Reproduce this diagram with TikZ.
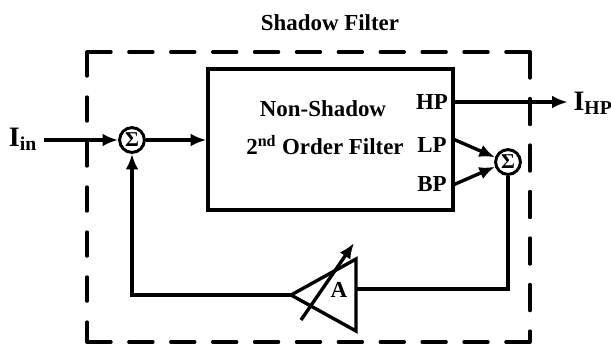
\documentclass[tikz,border=0pt]{standalone}
\usepackage{fontspec}
\setmainfont{Liberation Serif}
\usepackage{tikz}
\usetikzlibrary{arrows.meta}
\usetikzlibrary{calc}
\begin{document}
\begin{tikzpicture}[x=0.025cm, y=-0.025cm, >={Latex[length=3.9mm,width=3.2mm]}, line join=miter]
	
	\tikzset{
		wire/.style={black, line width=2.4pt},
		arrowW/.style={->, black, line width=2.4pt},
		frameH/.style={black, line width=2.4pt, line cap=round, dash pattern=on 0.6cm off 0.447cm},
		frameL/.style={black, line width=2.4pt, line cap=round, dash pattern=on 0.6cm off 0.525cm},
		frameR/.style={black, line width=2.4pt, line cap=round, dash pattern=on 0.65cm off 0.5125cm},
		blockbox/.style={draw=black, line width=2.4pt, minimum width=6.125cm, minimum height=3.525cm, inner sep=0pt},
		sumnode/.style={circle, draw=black, line width=2.1pt, fill=white, minimum size=0.62cm, inner sep=0pt, font=\bfseries\fontsize{15}{17}\selectfont},
		lab/.style={font=\bfseries\fontsize{16.3}{18}\selectfont, inner sep=0pt},
		biglab/.style={font=\bfseries\fontsize{20}{22}\selectfont, inner sep=0pt},
	}
	
	\useasboundingbox (0,0) rectangle (611,345);
	
	% --- dashed outline of the shadow filter
	\draw[frameH] (87,52) -- (530,52);
	\draw[frameH] (87,342) -- (530,342);
	\draw[frameL] (87,52) -- (87,342);
	\draw[frameR] (530,52) -- (530,342);
	\node[lab] (title) at (330,23) {Shadow Filter};
	
	% --- core filter
	\node[blockbox] (filter) at (330.5,139.5) {};
	\node[lab] (nonshadow) at (323,109) {Non-Shadow};
	\node[lab] (order) at (325,145) {2\textsuperscript{nd} Order Filter};
	\node[lab] (hp) at (432,102) {HP};
	\node[lab] (lp) at (432,145) {LP};
	\node[lab] (bp) at (432,184) {BP};
	\coordinate (lpout) at (453,139);
	\coordinate (bpout) at (453,185);
	
	% --- summers
	\node[sumnode] (sumin) at (132,140) {Σ};
	\node[sumnode] (sumout) at (508,162) {Σ};
	
	% --- input and output labels
	\node[biglab] (iin) at (23,139) {I\textsubscript{in}};
	\node[biglab] (ihp) at (593,103) {I\textsubscript{HP}};
	
	% --- amplifier
	\coordinate (ampL) at (291,295);
	\coordinate (ampT) at (356,259);
	\coordinate (ampB) at (356,331);
	\coordinate (ampR) at (356,289);
	\draw[wire] (ampL) -- (ampT) -- (ampB) -- cycle;
	\node[lab] (gain) at (339,290) {A};
	\coordinate (tuneS) at (301,320);
	\coordinate (tuneE) at (354,243);
	\draw[arrowW] (tuneS) -- (tuneE);
	
	% --- signal path
	\draw[arrowW] (iin.east) ++(7,1) -- (sumin.west);
	\draw[arrowW] (sumin) -- (filter.west |- sumin);
	\draw[arrowW] (filter.east |- hp) -- ++(113,0);
	\draw[arrowW] (lpout) -- (sumout.160);
	\draw[arrowW] (bpout) -- (sumout.200);
	\draw[wire] (sumout.south) -- (sumout |- ampR) -- (ampR);
	\draw[arrowW] (ampL) -- (sumin |- ampL) -- (sumin.south);
	
\end{tikzpicture}
\end{document}
